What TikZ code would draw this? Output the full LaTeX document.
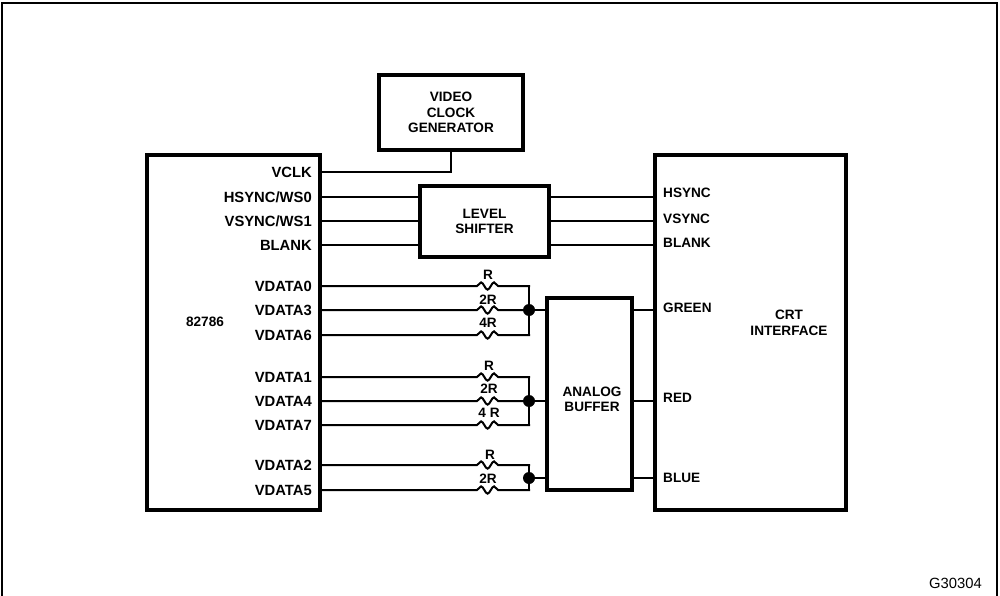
\documentclass[tikz,border=0pt]{standalone}
\usepackage{fontspec}
\setmainfont{Liberation Sans}
\usetikzlibrary{decorations.pathmorphing}
\tikzset{
  frameline/.style={line width=2pt,black},
  blockbox/.style={draw,line width=4pt,inner sep=0pt,align=center,font=\blocktext},
  blocklabel/.style={inner sep=0pt,align=center,font=\blocktext},
  pinleft/.style={inner sep=0pt,anchor=east,text depth=0pt,font=\pintext},
  pinright/.style={inner sep=0pt,anchor=west,text depth=0pt,font=\blocktext},
  wire/.style={line width=2pt,line cap=rect},
  reswire/.style={wire,decorate,decoration={snake,segment length=13pt,amplitude=3.6pt,
    pre=lineto,pre length=155pt,post=lineto,post length=28pt}},
  junction/.style={circle,fill,inner sep=0pt,minimum size=12pt},
}
\newcommand{\blocktext}{\bfseries\fontsize{13.6}{15.5}\selectfont}
\newcommand{\pintext}{\bfseries\fontsize{14.8}{16}\selectfont}

\begin{document}
\begin{tikzpicture}[x=1pt,y=-1pt]
  \useasboundingbox (0,0) rectangle (1000,596);
  \draw[frameline] (1.5,596) -- (1.5,3) -- (997,3) -- (997,596);

  \node[blockbox,minimum width=173pt,minimum height=355pt] (gpu) at (233.5,332.5) {};
  \node[blockbox,minimum width=144pt,minimum height=75pt] (clock) at (451,112.5) {VIDEO\\CLOCK\\GENERATOR};
  \node[blockbox,minimum width=129pt,minimum height=71pt] (shifter) at (484.5,221.5) {LEVEL\\SHIFTER};
  \node[blockbox,minimum width=85pt,minimum height=192pt] (buffer) at (589.5,394) {};
  \node[blockbox,minimum width=191pt,minimum height=355pt] (crt) at (750.5,332.5) {};

  \node[blocklabel] (gpuname) at (205,322) {82786};
  \node[blocklabel] (buffername) at (592,399.5) {ANALOG\\BUFFER};
  \node[blocklabel] (crtname) at (789,323) {CRT\\INTERFACE};
  \node[blocklabel,anchor=east,font=\fontsize{14.8}{16}\selectfont] (figcode) at (982,583) {G30304};

  \node[pinleft] (vclk) at (312,172.5) {VCLK};
  \node[pinleft] (hsyncl) at (312,197) {HSYNC/WS0};
  \node[pinleft] (vsyncl) at (312,221) {VSYNC/WS1};
  \node[pinleft] (blankl) at (312,245) {BLANK};
  \node[pinleft] (vdzero) at (312,286) {VDATA0};
  \node[pinleft] (vdthree) at (312,310) {VDATA3};
  \node[pinleft] (vdsix) at (312,335) {VDATA6};
  \node[pinleft] (vdone) at (312,377) {VDATA1};
  \node[pinleft] (vdfour) at (312,401) {VDATA4};
  \node[pinleft] (vdseven) at (312,425) {VDATA7};
  \node[pinleft] (vdtwo) at (312,465) {VDATA2};
  \node[pinleft] (vdfive) at (312,490) {VDATA5};

  \node[pinright] (hsyncr) at (663,193) {HSYNC};
  \node[pinright] (vsyncr) at (663,219) {VSYNC};
  \node[pinright] (blankr) at (663,243) {BLANK};
  \node[pinright] (green) at (663,308) {GREEN};
  \node[pinright] (red) at (663,398) {RED};
  \node[pinright] (blue) at (663,478) {BLUE};

  \node[blocklabel] (rzero) at (488,275) {R};
  \node[blocklabel] (rthree) at (488,300) {2R};
  \node[blocklabel] (rsix) at (488,323) {4R};
  \node[blocklabel] (rone) at (489,366) {R};
  \node[blocklabel] (rfour) at (489,389) {2R};
  \node[blocklabel] (rseven) at (489,413) {4 R};
  \node[blocklabel] (rtwo) at (490,455) {R};
  \node[blocklabel] (rfive) at (488,479) {2R};

  \node[junction] (jgreen) at (529,310) {};
  \node[junction] (jred) at (529,401) {};
  \node[junction] (jblue) at (529,478) {};

  \draw[wire] (vclk.east -| gpu.east) -| (clock.south);
  \draw[wire] (hsyncl.east -| gpu.east) -- (hsyncl.east -| shifter.west);
  \draw[wire] (vsyncl.east -| gpu.east) -- (vsyncl.east -| shifter.west);
  \draw[wire] (blankl.east -| gpu.east) -- (blankl.east -| shifter.west);
  \draw[wire] (hsyncl.east -| shifter.east) -- (hsyncl.east -| crt.west);
  \draw[wire] (vsyncl.east -| shifter.east) -- (vsyncl.east -| crt.west);
  \draw[wire] (blankl.east -| shifter.east) -- (blankl.east -| crt.west);

  \draw[reswire] (vdzero.east -| gpu.east) -- (vdzero.east -| jgreen);
  \draw[reswire] (vdthree.east -| gpu.east) -- (vdthree.east -| jgreen);
  \draw[reswire] (vdsix.east -| gpu.east) -- (vdsix.east -| jgreen);
  \draw[reswire] (vdone.east -| gpu.east) -- (vdone.east -| jred);
  \draw[reswire] (vdfour.east -| gpu.east) -- (vdfour.east -| jred);
  \draw[reswire] (vdseven.east -| gpu.east) -- (vdseven.east -| jred);
  \draw[reswire] (vdtwo.east -| gpu.east) -- (vdtwo.east -| jblue);
  \draw[reswire] (vdfive.east -| gpu.east) -- (vdfive.east -| jblue);

  \draw[wire] (vdzero.east -| jgreen) -- (vdsix.east -| jgreen);
  \draw[wire] (vdone.east -| jred) -- (vdseven.east -| jred);
  \draw[wire] (vdtwo.east -| jblue) -- (vdfive.east -| jblue);

  \draw[wire] (jgreen) -- (jgreen -| buffer.west);
  \draw[wire] (jred) -- (jred -| buffer.west);
  \draw[wire] (jblue) -- (jblue -| buffer.west);
  \draw[wire] (jgreen -| buffer.east) -- (jgreen -| crt.west);
  \draw[wire] (jred -| buffer.east) -- (jred -| crt.west);
  \draw[wire] (jblue -| buffer.east) -- (jblue -| crt.west);
\end{tikzpicture}
\end{document}
